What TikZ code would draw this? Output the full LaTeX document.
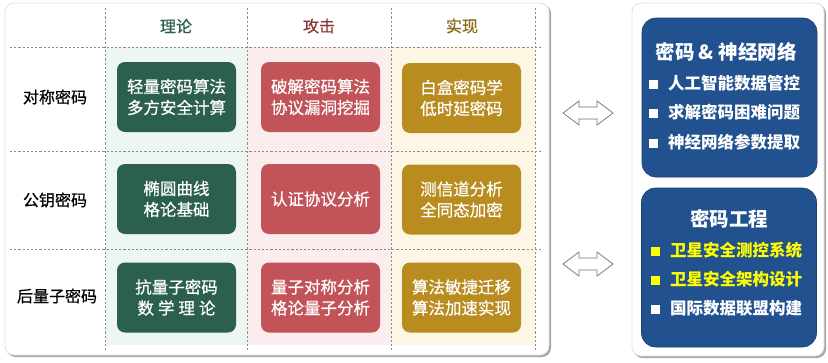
\documentclass[tikz,border=0pt]{standalone}
\usepackage{fontspec}
\setmainfont{Noto Sans CJK SC}
\newfontfamily\medfont{Noto Sans CJK SC}[FakeBold=0.6]
\usetikzlibrary{positioning}
\definecolor{cgreen}{HTML}{2B5F4F}
\definecolor{cred}{HTML}{C25358}
\definecolor{cgold}{HTML}{B98C1F}
\definecolor{cblue}{HTML}{21518F}
\definecolor{hgreen}{HTML}{2B5F4F}
\definecolor{hred}{HTML}{8C3535}
\definecolor{hgold}{HTML}{8A6A1A}
\definecolor{bggreen}{HTML}{EEF6F2}
\definecolor{bgred}{HTML}{FBEDED}
\definecolor{bggold}{HTML}{FEF6E4}
\definecolor{byellow}{HTML}{FFFF00}
\begin{document}
\begin{tikzpicture}[x=1pt,y=-1pt,
  panel/.style={draw=black!12, fill=white, rounded corners=9pt, line width=0.8pt},
  shadowbox/.style={fill=black!35, rounded corners=9pt},
  grid/.style={draw=black!45, dash pattern=on 2.2pt off 2pt, line width=0.6pt},
  cell/.style={rectangle, rounded corners=8pt, minimum width=119pt, minimum height=70pt, inner sep=0pt, align=center, text=white, font=\medfont\fontsize{16.5}{21}\selectfont},
  rowlabel/.style={font=\medfont\fontsize{16}{18}\selectfont, text=black},
  header/.style={font=\medfont\fontsize{16}{18}\selectfont},
  bluebox/.style={rectangle, rounded corners=14pt, fill=cblue, draw=cblue!80!black, line width=0.6pt, minimum width=175pt, minimum height=159pt},
  bluetitle/.style={text=white, font=\fontsize{19.5}{22}\selectfont\bfseries},
  bullet/.style={anchor=west, inner sep=0pt, font=\fontsize{16.5}{18}\selectfont\bfseries},
  arrowline/.style={draw=black!55, fill=white, line width=0.7pt, line join=miter},
  dblarrow/.pic={\draw[arrowline] (-25,0) -- (-9,-12) -- (-9,-6) -- (9,-6) -- (9,-12) -- (25,0) -- (9,12) -- (9,6) -- (-9,6) -- (-9,12) -- cycle;}
]
\useasboundingbox (0,0) rectangle (828,362);
% left panel
\fill[shadowbox] (6.5,4.5) rectangle (551,357);
\path[panel] (5,3) rectangle (549,355);
% column backgrounds
\fill[bggreen] (105,47) rectangle (247,345);
\fill[bgred] (247,47) rectangle (391,345);
\fill[bggold] (391,47) rectangle (535,345);
% grid lines
\foreach \x in {105,247,391,535} \draw[grid] (\x,8) -- (\x,352);
\foreach \y in {47,151,249} \draw[grid] (10,\y) -- (543,\y);
% headers
\node[header, text=hgreen] (h1) at (176,26) {理论};
\node[header, text=hred] (h2) at (319,26) {攻击};
\node[header, text=hgold] (h3) at (462,26) {实现};
% row labels
\node[rowlabel] (r1) at (55,97) {对称密码};
\node[rowlabel] (r2) at (55,200) {公钥密码};
\node[rowlabel] (r3) at (57,296) {后量子密码};
% cells
\node[cell, fill=cgreen] (a1) at (176.5,97) {轻量密码算法\\多方安全计算};
\node[cell, fill=cred] (b1) at (320.5,97) {破解密码算法\\协议漏洞挖掘};
\node[cell, fill=cgold] (c1) at (461.5,98) {白盒密码学\\低时延密码};
\node[cell, fill=cgreen] (a2) at (176.5,199) {椭圆曲线\\格论基础};
\node[cell, fill=cred] (b2) at (320.5,199) {认证协议分析};
\node[cell, fill=cgold] (c2) at (461.5,199.5) {测信道分析\\全同态加密};
\node[cell, fill=cgreen] (a3) at (176.5,297.5) {抗量子密码\\数\hspace{4pt}学\hspace{4pt}理\hspace{4pt}论};
\node[cell, fill=cred] (b3) at (320.5,297.5) {量子对称分析\\格论量子分析};
\node[cell, fill=cgold] (c3) at (461.5,297.5) {算法敏捷迁移\\算法加速实现};
% arrows
\pic at (588,113) {dblarrow};
\pic at (588,264) {dblarrow};
% right panel
\fill[shadowbox] (633.5,4.5) rectangle (826,358);
\path[panel] (632,3) rectangle (824,356);
\node[bluebox] (n1) at (729.5,97.5) {};
\node[bluebox] (n2) at (729,267.5) {};
\node[bluetitle] (t1) at (726,52) {密码 \& 神经网络};
\node[bullet, text=white] (p1) at (649,83) {\rule{9pt}{9pt}\hspace{10pt}人工智能数据管控};
\node[bullet, text=white] (p2) at (649,112) {\rule{9pt}{9pt}\hspace{10pt}求解密码困难问题};
\node[bullet, text=white] (p3) at (649,142) {\rule{9pt}{9pt}\hspace{10pt}神经网络参数提取};
\node[bluetitle] (t2) at (729,219) {密码工程};
\node[bullet, text=byellow] (q1) at (651,250) {\rule{9pt}{9pt}\hspace{10pt}卫星安全测控系统};
\node[bullet, text=byellow] (q2) at (651,279) {\rule{9pt}{9pt}\hspace{10pt}卫星安全架构设计};
\node[bullet, text=white] (q3) at (651,308) {\rule{9pt}{9pt}\hspace{10pt}国际数据联盟构建};
\end{tikzpicture}
\end{document}
